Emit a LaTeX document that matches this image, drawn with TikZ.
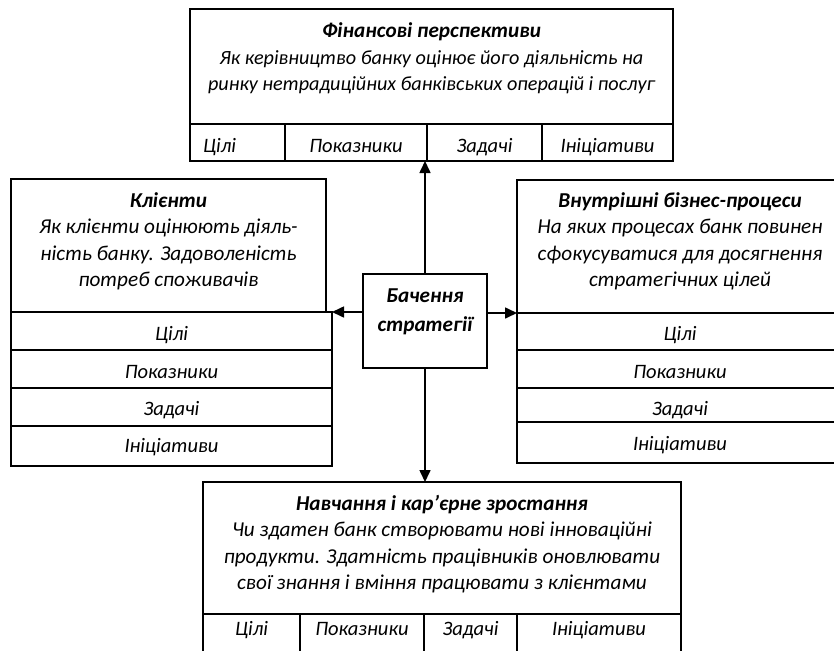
\documentclass[tikz,border=0pt]{standalone}
\usepackage{fontspec}
\setmainfont{Carlito}
\usetikzlibrary{arrows.meta}
\begin{document}
\begin{tikzpicture}[x=1pt,y=-1pt,
  bx/.style={draw, line width=1.6pt, inner sep=0pt, outer sep=0pt},
  cl/.style={bx, font=\fontsize{20.5}{26.5}\selectfont\itshape},
  tx/.style={inner sep=0pt, outer sep=0pt, anchor=north, align=center, font=\fontsize{21.2}{26.5}\selectfont\itshape},
  arr/.style={line width=1.6pt, -{Triangle[length=12pt,width=11pt]}}]
\useasboundingbox (0,0) rectangle (834,650);
\clip (0,0) rectangle (834,650);

% top box: financial perspectives
\node[bx, minimum width=483, minimum height=115] (fin) at (431.5,66.5) {};
\node[tx, font=\fontsize{20.2}{26.5}\selectfont\itshape] (fint) at (431.5,19.45) {\strut{\fontsize{21.2}{26.5}\selectfont\bfseries Фінансові перспективи}\\Як керівництво банку оцінює його діяльність на\\ринку нетрадиційних банківських операцій і послуг};
\node[cl, text height=28.5, text depth=8.5, inner xsep=13, text width=69, align=left] (f1) at (237.5,142.5) {Цілі};
\node[cl, minimum width=142, text height=28.5, text depth=8.5] (f2) at (356,142.5) {Показники};
\node[cl, minimum width=115, text height=28.5, text depth=8.5] (f3) at (484.5,142.5) {Задачі};
\node[cl, minimum width=131, text height=28.5, text depth=8.5] (f4) at (607.5,142.5) {Ініціативи};

% left box: clients
\node[bx, minimum width=315, minimum height=133] (kl) at (168.5,245.5) {};
\node[tx] (klt) at (168.5,188.45) {\strut\textbf{Клієнти}\\Як клієнти оцінюють діяль-\\ність банку. Задоволеність\\потреб споживачів};
\node[cl, minimum width=321, text height=28, text depth=10] (kl1) at (171.5,331) {Цілі};
\node[cl, minimum width=321, text height=28, text depth=10] (kl2) at (171.5,369) {Показники};
\node[cl, minimum width=321, text height=27, text depth=11] (kl3) at (171.5,407) {Задачі};
\node[cl, minimum width=321, text height=26, text depth=14] (kl4) at (171.5,446) {Ініціативи};

% right box: internal processes
\node[bx, minimum width=326, minimum height=133] (vn) at (680,246.5) {};
\node[tx] (vnt) at (680,188.45) {\strut\textbf{Внутрішні бізнес-процеси}\\На яких процесах банк повинен\\сфокусуватися для досягнення\\стратегічних цілей};
\node[cl, minimum width=326, text height=27, text depth=10] (vn1) at (680,331.5) {Цілі};
\node[cl, minimum width=326, text height=28, text depth=10] (vn2) at (680,369) {Показники};
\node[cl, minimum width=326, text height=27, text depth=7] (vn3) at (680,405) {Задачі};
\node[cl, minimum width=326, text height=28, text depth=13] (vn4) at (680,442.5) {Ініціативи};

% centre box
\node[bx, minimum width=124, minimum height=94] (cen) at (425,321) {};
\node[tx, font=\fontsize{21.2}{29.5}\selectfont\itshape\bfseries] (cent) at (425,281.35) {\strut Бачення\\стратегії};

% bottom box: learning and growth
\node[bx, minimum width=478, minimum height=132] (nav) at (442,548) {};
\node[tx] (navt) at (442,491.45) {\strut\textbf{Навчання і кар’єрне зростання}\\Чи здатен банк створювати нові інноваційні\\продукти. Здатність працівників оновлювати\\свої знання і вміння працювати з клієнтами};
\node[cl, minimum width=97, text height=21, text depth=17] (n1) at (251.5,633) {Цілі};
\node[cl, minimum width=124, text height=21, text depth=17] (n2) at (362,633) {Показники};
\node[cl, minimum width=93, text height=21, text depth=17] (n3) at (470.5,633) {Задачі};
\node[cl, minimum width=164, text height=21, text depth=17] (n4) at (599,633) {Ініціативи};

% connectors
\draw[arr] (cen.north) -- (cen.north |- f3.south);
\draw[arr] (cen.south) -- (cen.south |- nav.north);
\draw[arr] (cen.west |- kl.south) -- (kl1.east |- kl.south);
\draw[arr] (cen.east |- vn.south) -- (vn.south west);
\end{tikzpicture}
\end{document}
